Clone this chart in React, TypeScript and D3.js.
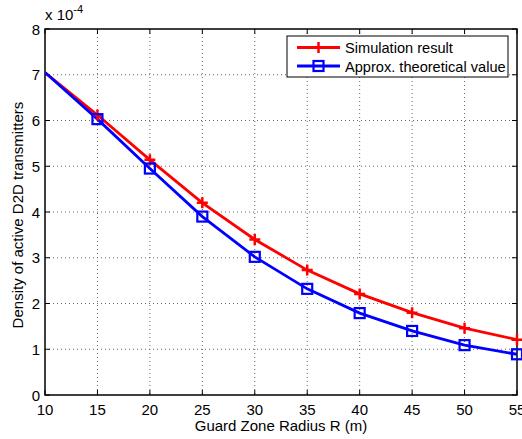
import React from "react";
import * as d3 from "d3";

const radii = [10, 15, 20, 25, 30, 35, 40, 45, 50, 55];
const simulation = [7.05, 6.12, 5.14, 4.2, 3.4, 2.73, 2.21, 1.8, 1.46, 1.21];
const approx = [7.05, 6.03, 4.95, 3.9, 3.02, 2.32, 1.79, 1.4, 1.09, 0.89];
const xTicks = [10, 15, 20, 25, 30, 35, 40, 45, 50, 55];
const yTicks = [0, 1, 2, 3, 4, 5, 6, 7, 8];
const seriesNames = ["Simulation result", "Approx. theoretical value"];

export default function App() {
  const W = 522, H = 439;
  const L = 45, R = 517, T = 29, B = 395;
  const x = d3.scaleLinear().domain([10, 55]).range([L, R]);
  const y = d3.scaleLinear().domain([0, 8]).range([B, T]);
  const line = d3.line<number>().x((_, i) => x(radii[i])).y((d) => y(d));
  const font = "Liberation Sans, Arial, sans-serif";
  const lx = 287, ly = 36, lw = 221, lh = 41;
  return (
    <svg width={W} height={H} style={{ position: "absolute", left: 0, top: 0, background: "#fff" }} fontFamily={font}>
      <defs>
        <clipPath id="plotclip">
          <rect x={L} y={T} width={R - L} height={B - T} />
        </clipPath>
      </defs>
      <rect x={0} y={0} width={W} height={H} fill="#fff" />
      {/* grid */}
      {xTicks.slice(1, -1).map((t) => (
        <line key={"gx" + t} x1={x(t)} x2={x(t)} y1={T} y2={B} stroke="#666" strokeWidth={1} strokeDasharray="1,3" />
      ))}
      {yTicks.slice(1, -1).map((t) => (
        <line key={"gy" + t} x1={L} x2={R} y1={y(t)} y2={y(t)} stroke="#666" strokeWidth={1} strokeDasharray="1,3" />
      ))}
      {/* ticks */}
      {xTicks.map((t) => (
        <g key={"tx" + t}>
          <line x1={x(t)} x2={x(t)} y1={B} y2={B - 5} stroke="#000" />
          <line x1={x(t)} x2={x(t)} y1={T} y2={T + 5} stroke="#000" />
          <text x={x(t)} y={B + 20} fontSize={15} textAnchor="middle">{t}</text>
        </g>
      ))}
      {yTicks.map((t) => (
        <g key={"ty" + t}>
          <line x1={L} x2={L + 5} y1={y(t)} y2={y(t)} stroke="#000" />
          <line x1={R} x2={R - 5} y1={y(t)} y2={y(t)} stroke="#000" />
          <text x={L - 5} y={y(t) + 5.5} fontSize={15} textAnchor="end">{t}</text>
        </g>
      ))}
      {/* exponent */}
      <text x={L} y={20} fontSize={15}>
        x 10<tspan dy={-7} fontSize={11}>-4</tspan>
      </text>
      <rect x={L} y={T} width={R - L} height={B - T} fill="none" stroke="#000" strokeWidth={1.5} />
      {/* series */}
      <g clipPath="url(#plotclip)">
        <path d={line(simulation) || ""} fill="none" stroke="#ff0000" strokeWidth={2.8} />
        <path d={line(approx) || ""} fill="none" stroke="#0000ff" strokeWidth={2.8} />
      </g>
      {simulation.map((v, i) => i === 0 ? null : (
        <path key={"s" + i} d={`M${x(radii[i]) - 5.5},${y(v)}h11M${x(radii[i])},${y(v) - 5.5}v11`} stroke="#ff0000" strokeWidth={2.5} />
      ))}
      {approx.map((v, i) => i === 0 ? null : (
        <rect key={"a" + i} x={x(radii[i]) - 5} y={y(v) - 5} width={10} height={10} fill="none" stroke="#0000ff" strokeWidth={2.2} />
      ))}
      {/* legend */}
      <rect x={lx} y={ly} width={lw} height={lh} fill="#fff" stroke="#000" strokeWidth={1} />
      <line x1={lx + 10} x2={lx + 53} y1={ly + 11.5} y2={ly + 11.5} stroke="#ff0000" strokeWidth={2.8} />
      <path d={`M${lx + 26},${ly + 11.5}h11M${lx + 31.5},${ly + 6}v11`} stroke="#ff0000" strokeWidth={2.5} />
      <text x={lx + 58} y={ly + 16.5} fontSize={14.6}>{seriesNames[0]}</text>
      <line x1={lx + 10} x2={lx + 53} y1={ly + 30} y2={ly + 30} stroke="#0000ff" strokeWidth={2.8} />
      <rect x={lx + 26.5} y={ly + 25} width={10} height={10} fill="none" stroke="#0000ff" strokeWidth={2.2} />
      <text x={lx + 58} y={ly + 35.5} fontSize={14.6}>{seriesNames[1]}</text>
      {/* axis labels */}
      <text x={(L + R) / 2} y={431} fontSize={15} textAnchor="middle">Guard Zone Radius R (m)</text>
      <text transform={`translate(23,215) rotate(-90)`} fontSize={15} textAnchor="middle">Density of active D2D transmitters</text>
    </svg>
  );
}
